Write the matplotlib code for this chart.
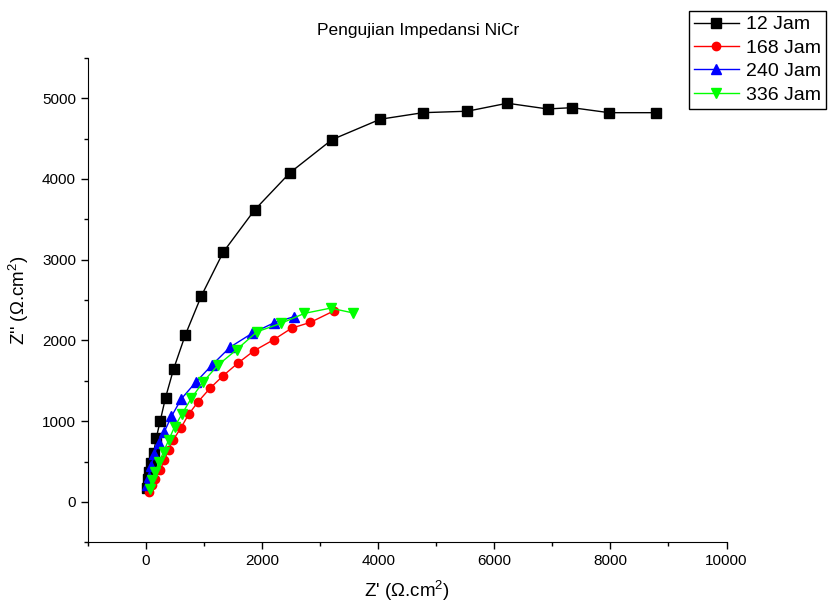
import matplotlib.pyplot as plt
from matplotlib.ticker import MultipleLocator

plt.rcParams['font.family'] = ['Liberation Sans', 'DejaVu Sans']
plt.rcParams['mathtext.fontset'] = 'custom'
plt.rcParams['mathtext.rm'] = 'Liberation Sans'
plt.rcParams['mathtext.it'] = 'Liberation Sans:italic'

# Nyquist data (Z', Z'')
x_12 = [20, 35, 55, 86, 132, 178, 246, 338, 476, 677, 953, 1332, 1871, 2481,
        3204, 4036, 4772, 5535, 6224, 6918, 7338, 7976, 8779]
y_12 = [170, 280, 370, 480, 607, 793, 1004, 1293, 1645, 2066, 2549, 3094, 3615,
        4077, 4486, 4739, 4820, 4838, 4937, 4866, 4882, 4820, 4820]

x_168 = [45, 103, 160, 246, 315, 390, 465, 603, 734, 896, 1100, 1332, 1585,
         1860, 2198, 2510, 2830, 3240]
y_168 = [124, 207, 290, 393, 517, 641, 765, 917, 1083, 1239, 1405, 1565, 1720,
         1871, 2008, 2152, 2223, 2367]

x_240 = [17, 45, 86, 143, 217, 315, 440, 610, 855, 1135, 1450, 1826, 2205, 2545]
y_240 = [207, 310, 445, 590, 735, 867, 1060, 1277, 1480, 1694, 1917, 2087, 2218, 2293]

x_336 = [62, 103, 160, 229, 304, 390, 493, 625, 780, 982, 1240, 1561, 1912,
         2325, 2730, 3180, 3570]
y_336 = [166, 269, 372, 496, 620, 765, 929, 1095, 1281, 1484, 1694, 1885, 2107,
         2211, 2335, 2400, 2340]

fig = plt.figure(figsize=(8.37, 6.08), dpi=100)
ax = fig.add_axes([0.105, 0.108, 0.763, 0.797])

ax.plot(x_12, y_12, '-s', color='black', lw=1, ms=6.5, label='12 Jam')
ax.plot(x_168, y_168, '-o', color='#ff0000', lw=1, ms=6, label='168 Jam')
ax.plot(x_240, y_240, '-^', color='#0000ff', lw=1, ms=7, label='240 Jam')
ax.plot(x_336, y_336, '-v', color='#00ff00', lw=1, ms=7, label='336 Jam')

ax.set_xlim(-1000, 10000)
ax.set_ylim(-500, 5500)
ax.xaxis.set_major_locator(MultipleLocator(2000))
ax.xaxis.set_minor_locator(MultipleLocator(1000))
ax.yaxis.set_major_locator(MultipleLocator(1000))
ax.yaxis.set_minor_locator(MultipleLocator(500))
ax.tick_params(which='major', direction='out', length=5, width=1, labelsize=11)
ax.tick_params(which='minor', direction='out', length=3, width=1)

ax.spines['top'].set_visible(False)
ax.spines['right'].set_visible(False)

ax.set_xlabel("Z' (Ω.cm$^2$)", fontsize=13.5, labelpad=8)
ax.set_ylabel("Z'' (Ω.cm$^2$)", fontsize=13.5, labelpad=8)
fig.text(0.5, 0.95, 'Pengujian Impedansi NiCr', ha='center', va='center', fontsize=12.5)

leg = fig.legend(loc='upper right', bbox_to_anchor=(0.999, 0.998), fontsize=14,
                 frameon=True, fancybox=False, edgecolor='black', framealpha=1,
                 handlelength=2.3, borderpad=0.25, labelspacing=0.3, handletextpad=0.4)
leg.get_frame().set_linewidth(1)

fig.savefig('out.png', dpi=100)
